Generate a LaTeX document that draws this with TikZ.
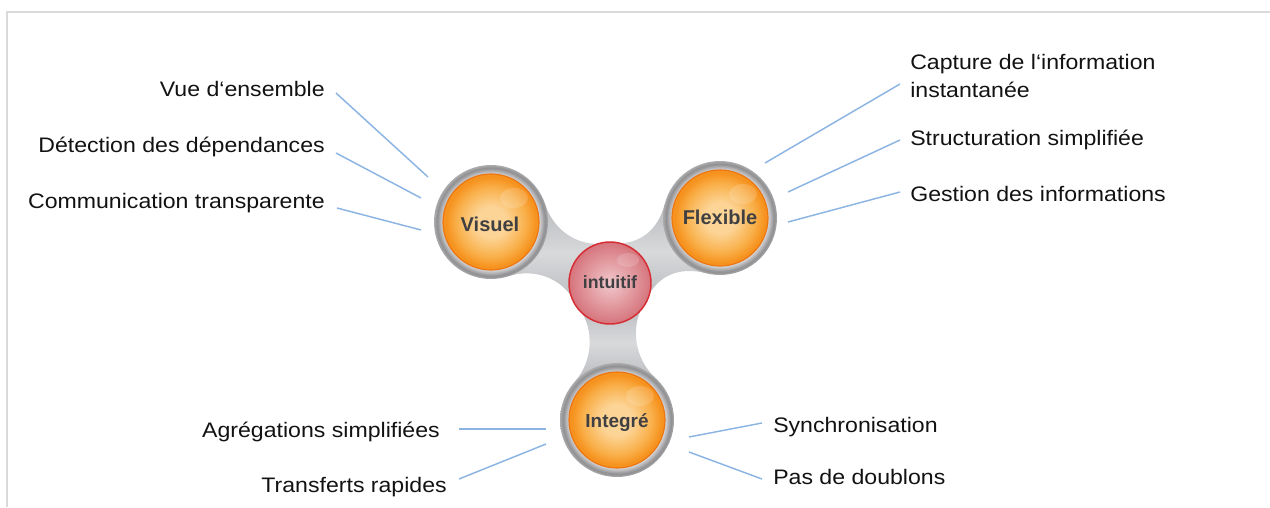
\documentclass[tikz,border=0pt]{standalone}
\usepackage{fontspec}
\setmainfont{Liberation Sans}
\newfontfamily\lblfont[FakeStretch=1.1]{Liberation Sans}
\usetikzlibrary{calc}
\definecolor{oA}{RGB}{252,212,150}
\definecolor{oB}{RGB}{249,176,74}
\definecolor{oC}{RGB}{246,146,30}
\definecolor{orim}{RGB}{236,118,18}
\definecolor{rA}{RGB}{240,200,204}
\definecolor{rB}{RGB}{228,160,166}
\definecolor{rC}{RGB}{214,116,124}
\definecolor{rrim}{RGB}{214,44,52}
\definecolor{gA}{RGB}{216,216,218}
\definecolor{gB}{RGB}{184,184,186}
\definecolor{gC}{RGB}{142,142,144}
\definecolor{gD}{RGB}{172,172,174}
\definecolor{armE}{RGB}{186,187,190}
\definecolor{armM}{RGB}{216,217,219}
\definecolor{lblcol}{RGB}{18,18,18}
\definecolor{ctxt}{RGB}{64,64,66}
\definecolor{linkblue}{RGB}{140,180,226}
\definecolor{framecol}{RGB}{218,218,218}
\pgfdeclareradialshading{orangeball}{\pgfpointorigin}{color(0bp)=(oA); color(8bp)=(oA); color(18bp)=(oB); color(23.5bp)=(oC); color(25bp)=(oC); color(50bp)=(oC)}
\pgfdeclareradialshading{redball}{\pgfpointorigin}{color(0bp)=(rA); color(12bp)=(rB); color(25bp)=(rC); color(50bp)=(rC)}
\pgfdeclareradialshading{ringshade}{\pgfpointorigin}{color(0bp)=(gA); color(21bp)=(gA); color(22.2bp)=(gB); color(23.7bp)=(gC); color(25bp)=(gD); color(50bp)=(gD)}
\newcommand\spinarm[3]{%
  \begin{scope}[shift={#1},rotate=#2]
    \pgfmathsetmacro\armqx{#3-22.9}
    \pgfmathsetmacro\armkx{#3-45}
    \shade[arm] (40.3,40.3) .. controls (59.4,21.2) and (\armkx,17.3) .. (\armqx,32.8)
      -- (\armqx,-32.8) .. controls (\armkx,-17.3) and (59.4,-21.2) .. (40.3,-40.3) -- cycle;
  \end{scope}}
\begin{document}
\begin{tikzpicture}[x=0.75pt,y=-0.75pt,
  lbl/.style={font=\lblfont\fontsize{15.75}{19}\selectfont, text=lblcol, inner sep=0pt},
  ctext/.style={font=\bfseries\fontsize{15}{18}\selectfont, text=ctxt, inner sep=0pt},
  link/.style={draw=linkblue, line width=1.1pt},
  arm/.style={top color=armE, bottom color=armE, middle color=armM},
  ringnode/.style={circle, shading=ringshade, minimum size=85.5pt, inner sep=0pt},
  ball/.style={circle, shading=orangeball, draw=orim, line width=0.9pt, minimum size=72pt, inner sep=0pt},
  hub/.style={circle, shading=redball, draw=rrim, line width=1.1pt, minimum size=61.5pt, inner sep=0pt},
  glint/.style={fill=white, opacity=0.16}]
\useasboundingbox (0,0) rectangle (1270,507);
% frame
\draw[framecol, line width=1pt] (7,507) -- (7,12) -- (1270,12);
% arms
\spinarm{(491,222)}{-27.14}{133.7}
\spinarm{(720,218)}{-149.42}{127.8}
\spinarm{(617,420)}{92.93}{137.2}
% rings
\node[ringnode] (visR) at (491,222) {};
\node[ringnode] (flexR) at (720,218) {};
\node[ringnode] (intR) at (617,420) {};
% balls
\node[ball] (vis) at (491,222) {};
\node[ball] (flex) at (720,218) {};
\node[ball] (integ) at (617,420) {};
\node[hub] (hub) at (610,283) {};
% glints
\fill[glint] (514,198) ellipse [x radius=14, y radius=10];
\fill[glint] (743,194) ellipse [x radius=14, y radius=10];
\fill[glint] (640,396) ellipse [x radius=14, y radius=10];
\fill[glint] (628,260) ellipse [x radius=11, y radius=7];
% centre texts
\node[ctext, anchor=base] (visT) at (490,231) {Visuel};
\node[ctext, anchor=base] (flexT) at (720,224) {Flexible};
\node[ctext, anchor=base, font=\bfseries\fontsize{13.3}{16}\selectfont] (hubT) at (610,288) {intuitif};
\node[ctext, anchor=base, font=\bfseries\fontsize{14.2}{17}\selectfont] (integT) at (617,427) {Integré};
% labels
\node[lbl, anchor=base east] (l1) at (325,96.5) {Vue d‘ensemble};
\node[lbl, anchor=base east] (l2) at (325,152.5) {Détection des dépendances};
\node[lbl, anchor=base east] (l3) at (325,208.3) {Communication transparente};
\node[lbl, anchor=base west] (r1a) at (910,69) {Capture de l‘information};
\node[lbl, anchor=base west] (r1b) at (910,97.3) {instantanée};
\node[lbl, anchor=base west] (r2) at (910,145) {Structuration simplifiée};
\node[lbl, anchor=base west] (r3) at (910,201.7) {Gestion des informations};
\node[lbl, anchor=base east] (b1) at (440,437) {Agrégations simplifiées};
\node[lbl, anchor=base east] (b2) at (447,492) {Transferts rapides};
\node[lbl, anchor=base west] (b3) at (773,432) {Synchronisation};
\node[lbl, anchor=base west] (b4) at (773,484) {Pas de doublons};
% connector end points
\coordinate (l1s) at (336,93);  \coordinate (l1e) at (428,177);
\coordinate (l2s) at (336,153); \coordinate (l2e) at (421,198);
\coordinate (l3s) at (337,208); \coordinate (l3e) at (421,230);
\coordinate (r1s) at (900,84);  \coordinate (r1e) at (765,163);
\coordinate (r2s) at (900,140); \coordinate (r2e) at (788,192);
\coordinate (r3s) at (900,192); \coordinate (r3e) at (788,222);
\coordinate (b1s) at (459,429); \coordinate (b1e) at (546,429);
\coordinate (b2s) at (459,479); \coordinate (b2e) at (546,444);
\coordinate (b3s) at (762,423); \coordinate (b3e) at (689,437);
\coordinate (b4s) at (762,479); \coordinate (b4e) at (689,452);
\draw[link] (l1s) -- (l1e);
\draw[link] (l2s) -- (l2e);
\draw[link] (l3s) -- (l3e);
\draw[link] (r1s) -- (r1e);
\draw[link] (r2s) -- (r2e);
\draw[link] (r3s) -- (r3e);
\draw[link] (b1s) -- (b1e);
\draw[link] (b2s) -- (b2e);
\draw[link] (b3s) -- (b3e);
\draw[link] (b4s) -- (b4e);
\end{tikzpicture}
\end{document}
